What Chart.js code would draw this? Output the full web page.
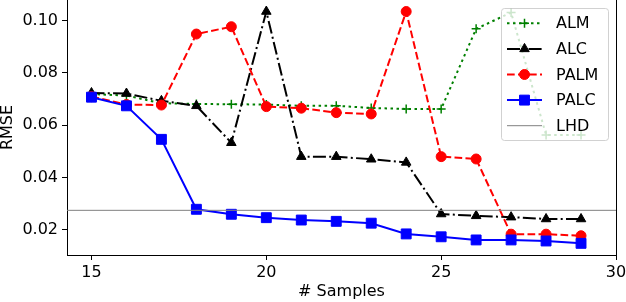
<!DOCTYPE html>
<html>
<head>
<meta charset="utf-8">
<script src="https://cdn.jsdelivr.net/npm/chart.js@4/dist/chart.umd.min.js"></script>
<style>
html,body{margin:0;padding:0;background:#fff;}
#wrap{width:626px;height:302px;position:relative;}
</style>
</head>
<body>
<div id="wrap"><canvas id="c" width="626" height="302"></canvas></div>
<script>
const samples = [15,16,17,18,19,20,21,22,23,24,25,26,27,28,29];
const alm  = [0.0719,0.0713,0.0684,0.0681,0.0680,0.0679,0.0674,0.0674,0.0666,0.0662,0.0662,0.0968,0.1030,0.0563,0.0563];
const alc  = [0.0723,0.0721,0.0693,0.0674,0.0533,0.1034,0.0480,0.0480,0.0470,0.0458,0.0261,0.0254,0.0249,0.0242,0.0242];
const palm = [0.0709,0.0679,0.0677,0.0948,0.0976,0.0671,0.0665,0.0648,0.0643,0.1034,0.0480,0.0471,0.0184,0.0184,0.0178];
const palc = [0.0707,0.0674,0.0546,0.0279,0.0260,0.0247,0.0238,0.0233,0.0226,0.0185,0.0174,0.0162,0.0162,0.0158,0.0149];
const lhd = 0.0275;
const xTicks = [15,20,25,30];
const yTicks = [0.02,0.04,0.06,0.08,0.10];
const seriesNames = ['ALM','ALC','PALM','PALC','LHD'];

const X_MIN = 14.3, X_MAX = 30, Y_MIN = 0.01045, Y_MAX = 0.1078;
const FONT = 'DejaVu Sans';

function pts(arr){ return samples.map((s,i)=>({x:s,y:arr[i]})); }

const styles = [
  {color:'#008000', dash:[2.5,3.5], marker:'cross', r:4.5, bw:1.5, lw:2},
  {color:'#000000', dash:[13,3.3,2,3.3], marker:'triangle', r:5.5, bw:1, lw:2},
  {color:'#ff0000', dash:[7.7,3.3], marker:'circle', r:5, bw:1, lw:2},
  {color:'#0000ff', dash:[], marker:'rect', r:7, bw:1, lw:2},
  {color:'#808080', dash:[], marker:false, r:0, bw:0, lw:1}
];

const seriesData = [alm, alc, palm, palc];
const datasets = seriesData.map((arr,i)=>({
  label: seriesNames[i],
  data: pts(arr),
  borderColor: styles[i].color,
  backgroundColor: styles[i].color,
  borderWidth: styles[i].lw,
  borderDash: styles[i].dash,
  pointStyle: styles[i].marker,
  pointRadius: styles[i].r,
  pointBorderWidth: styles[i].bw,
  pointBorderColor: styles[i].color,
  pointBackgroundColor: styles[i].color,
  tension: 0,
  fill: false,
  order: 6 - i
}));
datasets.push({
  label: 'LHD',
  data: [{x:X_MIN,y:lhd},{x:X_MAX,y:lhd}],
  borderColor: '#808080',
  borderWidth: 1,
  pointRadius: 0,
  fill: false,
  order: 1
});

const framePlugin = {
  id: 'frame',
  afterDatasetsDraw(chart){
    const {ctx, chartArea:a} = chart;
    ctx.save();
    ctx.strokeStyle = '#000';
    ctx.lineWidth = 1;
    ctx.beginPath();
    ctx.moveTo(Math.round(a.right)+0.5, a.top);
    ctx.lineTo(Math.round(a.right)+0.5, a.bottom);
    ctx.stroke();
    ctx.restore();
  }
};

function drawMarker(ctx, type, x, y, r, color, bw){
  ctx.save();
  ctx.setLineDash([]);
  ctx.fillStyle = color; ctx.strokeStyle = color; ctx.lineWidth = bw;
  ctx.beginPath();
  if (type === 'cross'){
    ctx.moveTo(x-r,y); ctx.lineTo(x+r,y); ctx.moveTo(x,y-r); ctx.lineTo(x,y+r); ctx.stroke();
  } else if (type === 'triangle'){
    ctx.moveTo(x, y-r);
    ctx.lineTo(x + Math.sin(2*Math.PI/3)*r, y + 0.5*r);
    ctx.lineTo(x - Math.sin(2*Math.PI/3)*r, y + 0.5*r);
    ctx.closePath(); ctx.fill(); ctx.stroke();
  } else if (type === 'circle'){
    ctx.arc(x,y,r,0,Math.PI*2); ctx.fill(); ctx.stroke();
  } else if (type === 'rect'){
    const s = r*Math.SQRT1_2;
    ctx.rect(x-s,y-s,2*s,2*s); ctx.fill(); ctx.stroke();
  }
  ctx.restore();
}

const legendPlugin = {
  id: 'insideLegend',
  afterDraw(chart){
    const ctx = chart.ctx;
    const bx = 501.5, by = 8.5, bw = 107, bh = 132, rad = 3;
    ctx.save();
    ctx.setLineDash([]);
    ctx.beginPath();
    ctx.moveTo(bx+rad,by); ctx.lineTo(bx+bw-rad,by); ctx.arcTo(bx+bw,by,bx+bw,by+rad,rad);
    ctx.lineTo(bx+bw,by+bh-rad); ctx.arcTo(bx+bw,by+bh,bx+bw-rad,by+bh,rad);
    ctx.lineTo(bx+rad,by+bh); ctx.arcTo(bx,by+bh,bx,by+bh-rad,rad);
    ctx.lineTo(bx,by+rad); ctx.arcTo(bx,by,bx+rad,by,rad);
    ctx.closePath();
    ctx.fillStyle = 'rgba(255,255,255,0.8)';
    ctx.fill();
    ctx.strokeStyle = 'rgba(204,204,204,0.9)';
    ctx.lineWidth = 1;
    ctx.stroke();
    seriesNames.forEach((name,i)=>{
      const st = styles[i];
      const y = 23.3 + i*25.6;
      ctx.save();
      ctx.strokeStyle = st.color; ctx.lineWidth = st.lw; ctx.setLineDash(st.dash);
      ctx.beginPath(); ctx.moveTo(507,y); ctx.lineTo(542,y); ctx.stroke();
      ctx.restore();
      if (st.marker) drawMarker(ctx, st.marker, 524.5, y, st.r, st.color, st.bw);
      ctx.fillStyle = '#000';
      ctx.font = '16px "' + FONT + '"';
      ctx.textBaseline = 'middle';
      ctx.textAlign = 'left';
      ctx.fillText(name, 556, y+1);
    });
    ctx.restore();
  }
};

new Chart(document.getElementById('c'), {
  type: 'line',
  data: { datasets },
  options: {
    responsive: false,
    animation: false,
    devicePixelRatio: 1,
    layout: { autoPadding: false, padding: {left:0, right:10, top:0, bottom:0} },
    plugins: { legend: {display:false}, tooltip: {enabled:false} },
    scales: {
      x: {
        type: 'linear', min: X_MIN, max: X_MAX,
        afterBuildTicks: s => { s.ticks = xTicks.map(v=>({value:v})); },
        afterFit: s => { s.height = 47; s.paddingLeft = 0; s.paddingRight = 0; },
        grid: { display: true, drawOnChartArea: false, drawTicks: true, tickLength: 5, color: '#000', tickColor:'#000' },
        border: { display: true, color: '#000', width: 1 },
        ticks: { color: '#000', font: {family: FONT, size: 16}, padding: 3, maxRotation: 0, autoSkip: false },
        title: { display: true, text: '# Samples', color: '#000', font: {family: FONT, size: 16, lineHeight: 1.2}, padding: {top: 1, bottom: 1} }
      },
      y: {
        type: 'linear', min: Y_MIN, max: Y_MAX,
        afterBuildTicks: s => { s.ticks = yTicks.map(v=>({value:v})); },
        afterFit: s => { s.width = 67; s.paddingTop = 0; s.paddingBottom = 0; },
        grid: { display: true, drawOnChartArea: false, drawTicks: true, tickLength: 5, color: '#000', tickColor:'#000' },
        border: { display: true, color: '#000', width: 1 },
        ticks: { color: '#000', font: {family: FONT, size: 16}, padding: 4, autoSkip: false,
          callback: v => Number(v).toFixed(2) },
        title: { display: true, text: 'RMSE', color: '#000', font: {family: FONT, size: 16, lineHeight: 1}, padding: {top: 0, bottom: 0} }
      }
    }
  },
  plugins: [framePlugin, legendPlugin]
});
</script>
</body>
</html>
